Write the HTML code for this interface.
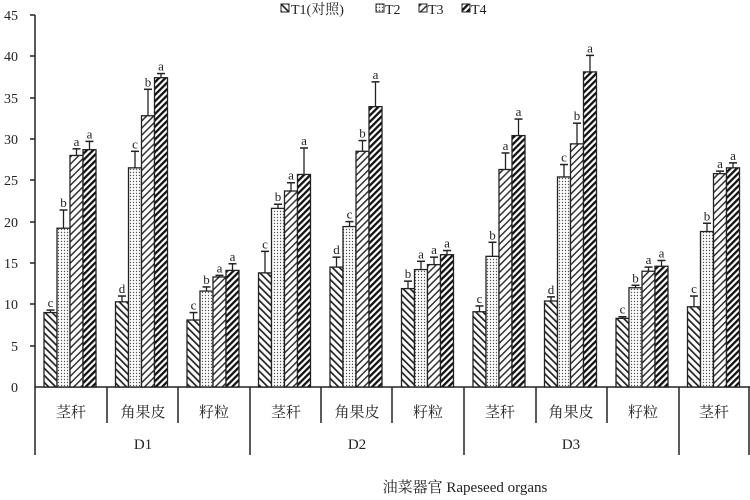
<!DOCTYPE html>
<html><head><meta charset="utf-8"><style>
html,body{margin:0;padding:0;background:#fff;width:750px;height:500px;overflow:hidden}
svg{display:block}
text{font-family:"Liberation Serif","Noto Serif CJK SC",serif;fill:#222}
</style></head><body>
<svg id="c" width="750" height="500" viewBox="0 0 750 500" xmlns="http://www.w3.org/2000/svg">
<defs>
<pattern id="p1" patternUnits="userSpaceOnUse" width="5" height="5" patternTransform="rotate(-45)"><rect width="5" height="5" fill="#fff"/><rect width="1.7" height="5" fill="#222"/></pattern>
<pattern id="p2" patternUnits="userSpaceOnUse" width="3" height="3"><rect width="3" height="3" fill="#fff"/><circle cx="1.5" cy="1.5" r="0.7" fill="#555"/></pattern>
<pattern id="p3" patternUnits="userSpaceOnUse" width="5" height="5" patternTransform="rotate(45)"><rect width="5" height="5" fill="#fff"/><rect width="1.5" height="5" fill="#333"/></pattern>
<pattern id="p4" patternUnits="userSpaceOnUse" width="4.5" height="4.5" patternTransform="rotate(45)"><rect width="4.5" height="4.5" fill="#fff"/><rect width="2.3" height="4.5" fill="#111"/></pattern>
</defs>
<g id="legend" font-size="14">
<rect x="281" y="4" width="8" height="8" fill="url(#p1)" stroke="#222"/><text x="291" y="14">T1(对照)</text>
<rect x="376" y="4" width="8" height="8" fill="url(#p2)" stroke="#222"/><text x="385" y="14">T2</text>
<rect x="419" y="4" width="8" height="8" fill="url(#p3)" stroke="#222"/><text x="428" y="14">T3</text>
<rect x="462" y="4" width="8" height="8" fill="url(#p4)" stroke="#222"/><text x="471" y="14">T4</text>
</g>
<g font-size="14" text-anchor="end">
<text x="18" y="392">0</text><text x="18" y="351">5</text><text x="18" y="309">10</text><text x="18" y="268">15</text><text x="18" y="227">20</text><text x="18" y="185">25</text><text x="18" y="144">30</text><text x="18" y="103">35</text><text x="18" y="61">40</text><text x="18" y="20">45</text>
</g>
<g stroke="#222" stroke-width="1.5">
<line x1="35" y1="15" x2="35" y2="455"/>
<line x1="35" y1="387" x2="750" y2="387"/>
<line x1="30" y1="15" x2="35" y2="15"/><line x1="30" y1="56" x2="35" y2="56"/><line x1="30" y1="98" x2="35" y2="98"/><line x1="30" y1="139" x2="35" y2="139"/><line x1="30" y1="180" x2="35" y2="180"/><line x1="30" y1="222" x2="35" y2="222"/><line x1="30" y1="263" x2="35" y2="263"/><line x1="30" y1="304" x2="35" y2="304"/><line x1="30" y1="346" x2="35" y2="346"/>
<line x1="107" y1="387" x2="107" y2="423"/><line x1="178" y1="387" x2="178" y2="423"/>
<line x1="250" y1="387" x2="250" y2="455"/>
<line x1="321" y1="387" x2="321" y2="423"/><line x1="392" y1="387" x2="392" y2="423"/>
<line x1="464" y1="387" x2="464" y2="455"/>
<line x1="536" y1="387" x2="536" y2="423"/><line x1="607" y1="387" x2="607" y2="423"/>
<line x1="679" y1="387" x2="679" y2="455"/>
<line x1="749" y1="387" x2="749" y2="455"/>
</g>
<g font-size="15" text-anchor="middle">
<text x="71" y="417">茎秆</text><text x="143" y="417">角果皮</text><text x="214" y="417">籽粒</text>
<text x="286" y="417">茎秆</text><text x="357" y="417">角果皮</text><text x="428" y="417">籽粒</text>
<text x="500" y="417">茎秆</text><text x="571" y="417">角果皮</text><text x="643" y="417">籽粒</text>
<text x="714" y="417">茎秆</text>
<text x="143" y="449">D1</text><text x="357" y="449">D2</text><text x="571" y="449">D3</text>
<text x="465" y="492">油菜器官  Rapeseed organs</text>
</g>
<g id="bars"></g>
</svg>
<script>
var d=[
[[9.0,.3,'c'],[19.2,2.2,'b'],[28.0,.8,'a'],[28.7,1.0,'a']],
[[10.3,.7,'d'],[26.5,2,'c'],[32.8,3.2,'b'],[37.4,.5,'a']],
[[8.1,.9,'c'],[11.6,.5,'b'],[13.3,.2,'a'],[14.1,.8,'a']],
[[13.8,2.6,'c'],[21.6,.5,'b'],[23.7,1,'a'],[25.7,3.2,'a']],
[[14.5,1.2,'d'],[19.4,.6,'c'],[28.5,1.3,'b'],[33.9,3,'a']],
[[11.9,.9,'b'],[14.2,1,'a'],[14.8,.9,'a'],[16.0,.5,'a']],
[[9.1,.7,'c'],[15.8,1.7,'b'],[26.3,2,'a'],[30.4,2,'a']],
[[10.4,.5,'d'],[25.4,1.5,'c'],[29.4,2.5,'b'],[38.1,2,'a']],
[[8.3,.2,'c'],[12.0,.3,'b'],[14.0,.5,'a'],[14.6,.7,'a']],
[[9.7,1.3,'c'],[18.8,1,'b'],[25.8,.3,'a'],[26.5,.6,'a']]];
var g=document.getElementById('bars'),s='',k=8.27,b=387;
d.forEach(function(c,i){c.forEach(function(v,j){
var x=35+71.5*i+9+13*j,y=b-v[0]*k,h=v[0]*k,ye=b-(v[0]+v[1])*k,cx=x+6.5;
s+='<rect x="'+x+'" y="'+y+'" width="13" height="'+h+'" fill="url(#p'+(j+1)+')" stroke="#222" stroke-width="1.3"/>';
s+='<line x1="'+cx+'" y1="'+y+'" x2="'+cx+'" y2="'+ye+'" stroke="#222" stroke-width="1.3"/>';
s+='<line x1="'+(cx-4)+'" y1="'+ye+'" x2="'+(cx+4)+'" y2="'+ye+'" stroke="#222" stroke-width="1.5"/>';
s+='<text x="'+cx+'" y="'+(ye-3)+'" font-size="13" text-anchor="middle">'+v[2]+'</text>';
});});
g.innerHTML=s;
</script>
</body></html>
